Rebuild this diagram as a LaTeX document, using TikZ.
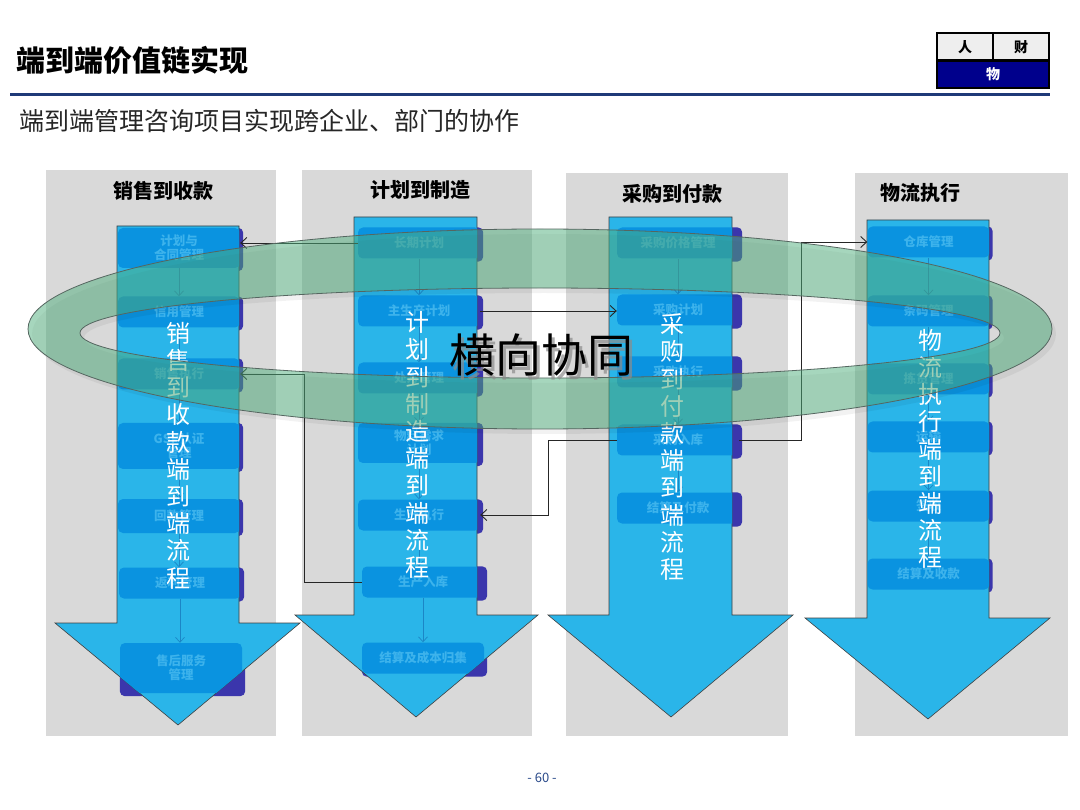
\documentclass[tikz,border=0pt]{standalone}
\usepackage{fontspec}
\setmainfont{Noto Sans CJK SC}
\usetikzlibrary{arrows.meta}
\definecolor{panelgray}{HTML}{D9D9D9}
\definecolor{arrowblue}{HTML}{2AB5E9}
\definecolor{boxblue}{HTML}{0A93E0}
\definecolor{boxshadow}{HTML}{3B36AC}
\definecolor{boxtext}{HTML}{3DB3EC}
\definecolor{flowline}{HTML}{1B86C6}
\definecolor{ringgreen}{HTML}{4FAE7C}
\definecolor{ringedge}{HTML}{556660}
\definecolor{rulenavy}{HTML}{1F3A78}
\definecolor{wublue}{HTML}{00008C}
\definecolor{cellgray}{HTML}{EEEEEE}
\definecolor{pagenum}{HTML}{2A4A8A}
\definecolor{subtext}{HTML}{262626}
\pgfdeclarelayer{panels}
\pgfdeclarelayer{shadows}
\pgfdeclarelayer{arrows}
\pgfdeclarelayer{boxes}
\pgfsetlayers{panels,shadows,arrows,boxes,main}
% L R T H HL HR X Y
\newcommand\BigArrow[8]{(#1,#3) -- (#2,#3) -- (#2,#4) -- (#6,#4) -- (#7,#8) -- (#5,#4) -- (#1,#4) -- cycle}
\begin{document}
\begin{tikzpicture}[x=1pt,y=-1pt,
  pbox/.style={fill=boxblue, rounded corners=5pt, text=boxtext,
    font=\bfseries\fontsize{12.5}{14}\selectfont, align=center, inner sep=0pt,
    minimum width=122pt, minimum height=31pt},
  vtext/.style={text=white, font=\fontsize{24}{27.2}\selectfont, align=center, inner sep=0pt},
  head/.style={font=\bfseries\fontsize{20}{24}\selectfont, inner sep=0pt},
  conn/.style={draw=black!85, line width=0.9pt, -{Straight Barb[length=6pt,width=11pt]}},
  smallarr/.style={draw=flowline, line width=0.7pt, -{Straight Barb[length=5pt,width=9pt]}},
  bigarrow/.style={fill=arrowblue, draw=black!75, line width=0.6pt},
  cell/.style={draw=black, line width=2.5pt, minimum width=56pt, minimum height=27.5pt,
    inner sep=0pt, font=\bfseries\fontsize{14}{16}\selectfont}]
\useasboundingbox (0,0) rectangle (1080,810);
\begin{pgfonlayer}{panels}
\fill[white] (0,0) rectangle (1080,810);
\fill[panelgray] (46,170) rectangle (276,736);
\fill[panelgray] (302,170) rectangle (532,736);
\fill[panelgray] (566,173) rectangle (788,736);
\fill[panelgray] (855,173) rectangle (1068,736);
\end{pgfonlayer}

% header
\node[anchor=west, inner sep=0pt, font=\bfseries\fontsize{29}{32}\selectfont] (title) at (16,60) {端到端价值链实现};
\node[cell, fill=cellgray] (ren) at (965,46.75) {人};
\node[cell, fill=cellgray] (cai) at (1021,46.75) {财};
\node[cell, fill=wublue, text=white, minimum width=112pt] (wu) at (993,74.25) {物};
\draw[rulenavy, line width=3pt] (10,95) -- (1050,95);
\node[anchor=west, inner sep=0pt, text=subtext, font=\fontsize{25}{28}\selectfont] (sub) at (19,121) {端到端管理咨询项目实现跨企业、部门的协作};

% headings
\node[head] (h1) at (163,191) {销售到收款};
\node[head] (h2) at (420,190) {计划到制造};
\node[head] (h3) at (672,194) {采购到付款};
\node[head] (h4) at (920,193) {物流执行};

% big arrows
\begin{pgfonlayer}{arrows}
\path[bigarrow] \BigArrow{117}{239}{226}{623}{55}{300}{178}{725};
\path[bigarrow] \BigArrow{354}{477}{217}{615}{295}{538}{416}{717};
\path[bigarrow] \BigArrow{609}{732}{217}{615}{548}{793}{671}{717};
\path[bigarrow] \BigArrow{867}{989}{220}{618}{805}{1050}{928}{719};
\end{pgfonlayer}

% process boxes
\begin{pgfonlayer}{boxes}
\begin{scope}
\clip \BigArrow{117}{239}{226}{623}{55}{300}{178}{725};
\node[pbox, minimum height=40pt] (c1a) at (179,248) {计划与\\合同管理};
\node[pbox] (c1b) at (179,312) {信用管理};
\node[pbox] (c1c) at (179,374) {销售执行};
\node[pbox, minimum height=46pt] (c1d) at (179,446) {GSP认证\\管理};
\node[pbox, minimum height=34pt] (c1e) at (179,516) {回款管理};
\node[pbox] (c1f) at (180,583) {返利管理};
\node[pbox, minimum height=50pt] (c1g) at (181,668) {售后服务\\管理};
\end{scope}
\begin{scope}
\clip \BigArrow{354}{477}{217}{615}{295}{538}{416}{717};
\node[pbox] (c2a) at (419,243) {长期计划};
\node[pbox] (c2b) at (419,311) {主生产计划};
\node[pbox] (c2c) at (419,378) {处方管理};
\node[pbox, minimum height=40pt] (c2d) at (419,443) {物料需求\\计划};
\node[pbox] (c2e) at (419,515) {生产执行};
\node[pbox] (c2f) at (423,582) {生产入库};
\node[pbox] (c2g) at (423,658) {结算及成本归集};
\end{scope}
\begin{scope}
\clip \BigArrow{609}{732}{217}{615}{548}{793}{671}{717};
\node[pbox] (c3a) at (678,243) {采购价格管理};
\node[pbox] (c3b) at (678,310) {采购计划};
\node[pbox] (c3c) at (678,372) {采购执行};
\node[pbox] (c3d) at (678,440) {采购入库};
\node[pbox] (c3e) at (678,508) {结算及付款};
\end{scope}
\begin{scope}
\clip \BigArrow{867}{989}{220}{618}{805}{1050}{928}{719};
\node[pbox] (c4a) at (928.5,242) {仓库管理};
\node[pbox] (c4b) at (928.5,311) {条码管理};
\node[pbox] (c4c) at (928.5,379) {拣货管理};
\node[pbox] (c4d) at (928.5,437) {运输};
\node[pbox] (c4e) at (928.5,506) {签收};
\node[pbox] (c4f) at (928.5,574) {结算及收款};
\end{scope}
\foreach \a/\b in {c1a/c1b,c1b/c1c,c1c/c1d,c1d/c1e,c1e/c1f,c1f/c1g,
  c2a/c2b,c2b/c2c,c2c/c2d,c2d/c2e,c2e/c2f,c2f/c2g,
  c3a/c3b,c3b/c3c,c3c/c3d,c3d/c3e,
  c4a/c4b,c4b/c4c,c4c/c4d,c4d/c4e,c4e/c4f}
  \draw[smallarr] (\a.south) -- (\a.south |- \b.north);
\end{pgfonlayer}

\begin{pgfonlayer}{shadows}
\foreach \n in {c1a,c1b,c1c,c1d,c1e,c1f,c1g,c2a,c2b,c2c,c2d,c2e,c2f,c2g,
  c3a,c3b,c3c,c3d,c3e,c4a,c4b,c4c,c4d,c4e,c4f}
  \fill[boxshadow, rounded corners=5pt] (\n.north west) rectangle ([shift={(3,3)}]\n.south east);
\end{pgfonlayer}

% vertical texts
\node[vtext] (v1) at (178,455.5) {销\\售\\到\\收\\款\\端\\到\\端\\流\\程};
\node[vtext] (v2) at (417,445) {计\\划\\到\\制\\造\\端\\到\\端\\流\\程};
\node[vtext] (v3) at (672,447) {采\\购\\到\\付\\款\\端\\到\\端\\流\\程};
\node[vtext] (v4) at (930,449) {物\\流\\执\\行\\端\\到\\端\\流\\程};

% connectors
\coordinate (k2) at (304,0);
\coordinate (k4) at (801,0);
\coordinate (k5) at (548,0);
\draw[conn] (c2a.west) -- (c2a.west -| c1a.east);
\draw[conn] (c2f.west) -| (k2 |- c1c.east) -- (c1c.east);
\draw[conn] (c2b.east) -- (c2b.east -| c3b.west);
\draw[conn] (c3d.east) -| (k4 |- c4a.west) -- (c4a.west);
\draw[conn] (c3d.west) -| (k5 |- c2e.east) -- (c2e.east);

% ring
\fill[black, opacity=0.05, even odd rule] (544,334) ellipse [x radius=512pt, y radius=100pt] (544,338) ellipse [x radius=460pt, y radius=45pt];
\fill[ringgreen, fill opacity=0.5, even odd rule] (540,329) ellipse [x radius=512pt, y radius=100pt] (540,333) ellipse [x radius=460pt, y radius=45pt];
\draw[ringedge, line width=0.8pt] (540,329) ellipse [x radius=512pt, y radius=100pt];
\draw[ringedge, line width=0.8pt] (540,333) ellipse [x radius=460pt, y radius=45pt];

% centre label
\node[text=black!45, opacity=0.7, font=\fontsize{46}{50}\selectfont, inner sep=0pt] (xtshadow) at (544,359) {横向协同};
\node[text=black, font=\fontsize{46}{50}\selectfont, inner sep=0pt] (xt) at (541,355) {横向协同};

% page number
\node[text=pagenum, font=\fontsize{13}{15}\selectfont] (pg) at (542,778) {- 60 -};
\end{tikzpicture}
\end{document}
